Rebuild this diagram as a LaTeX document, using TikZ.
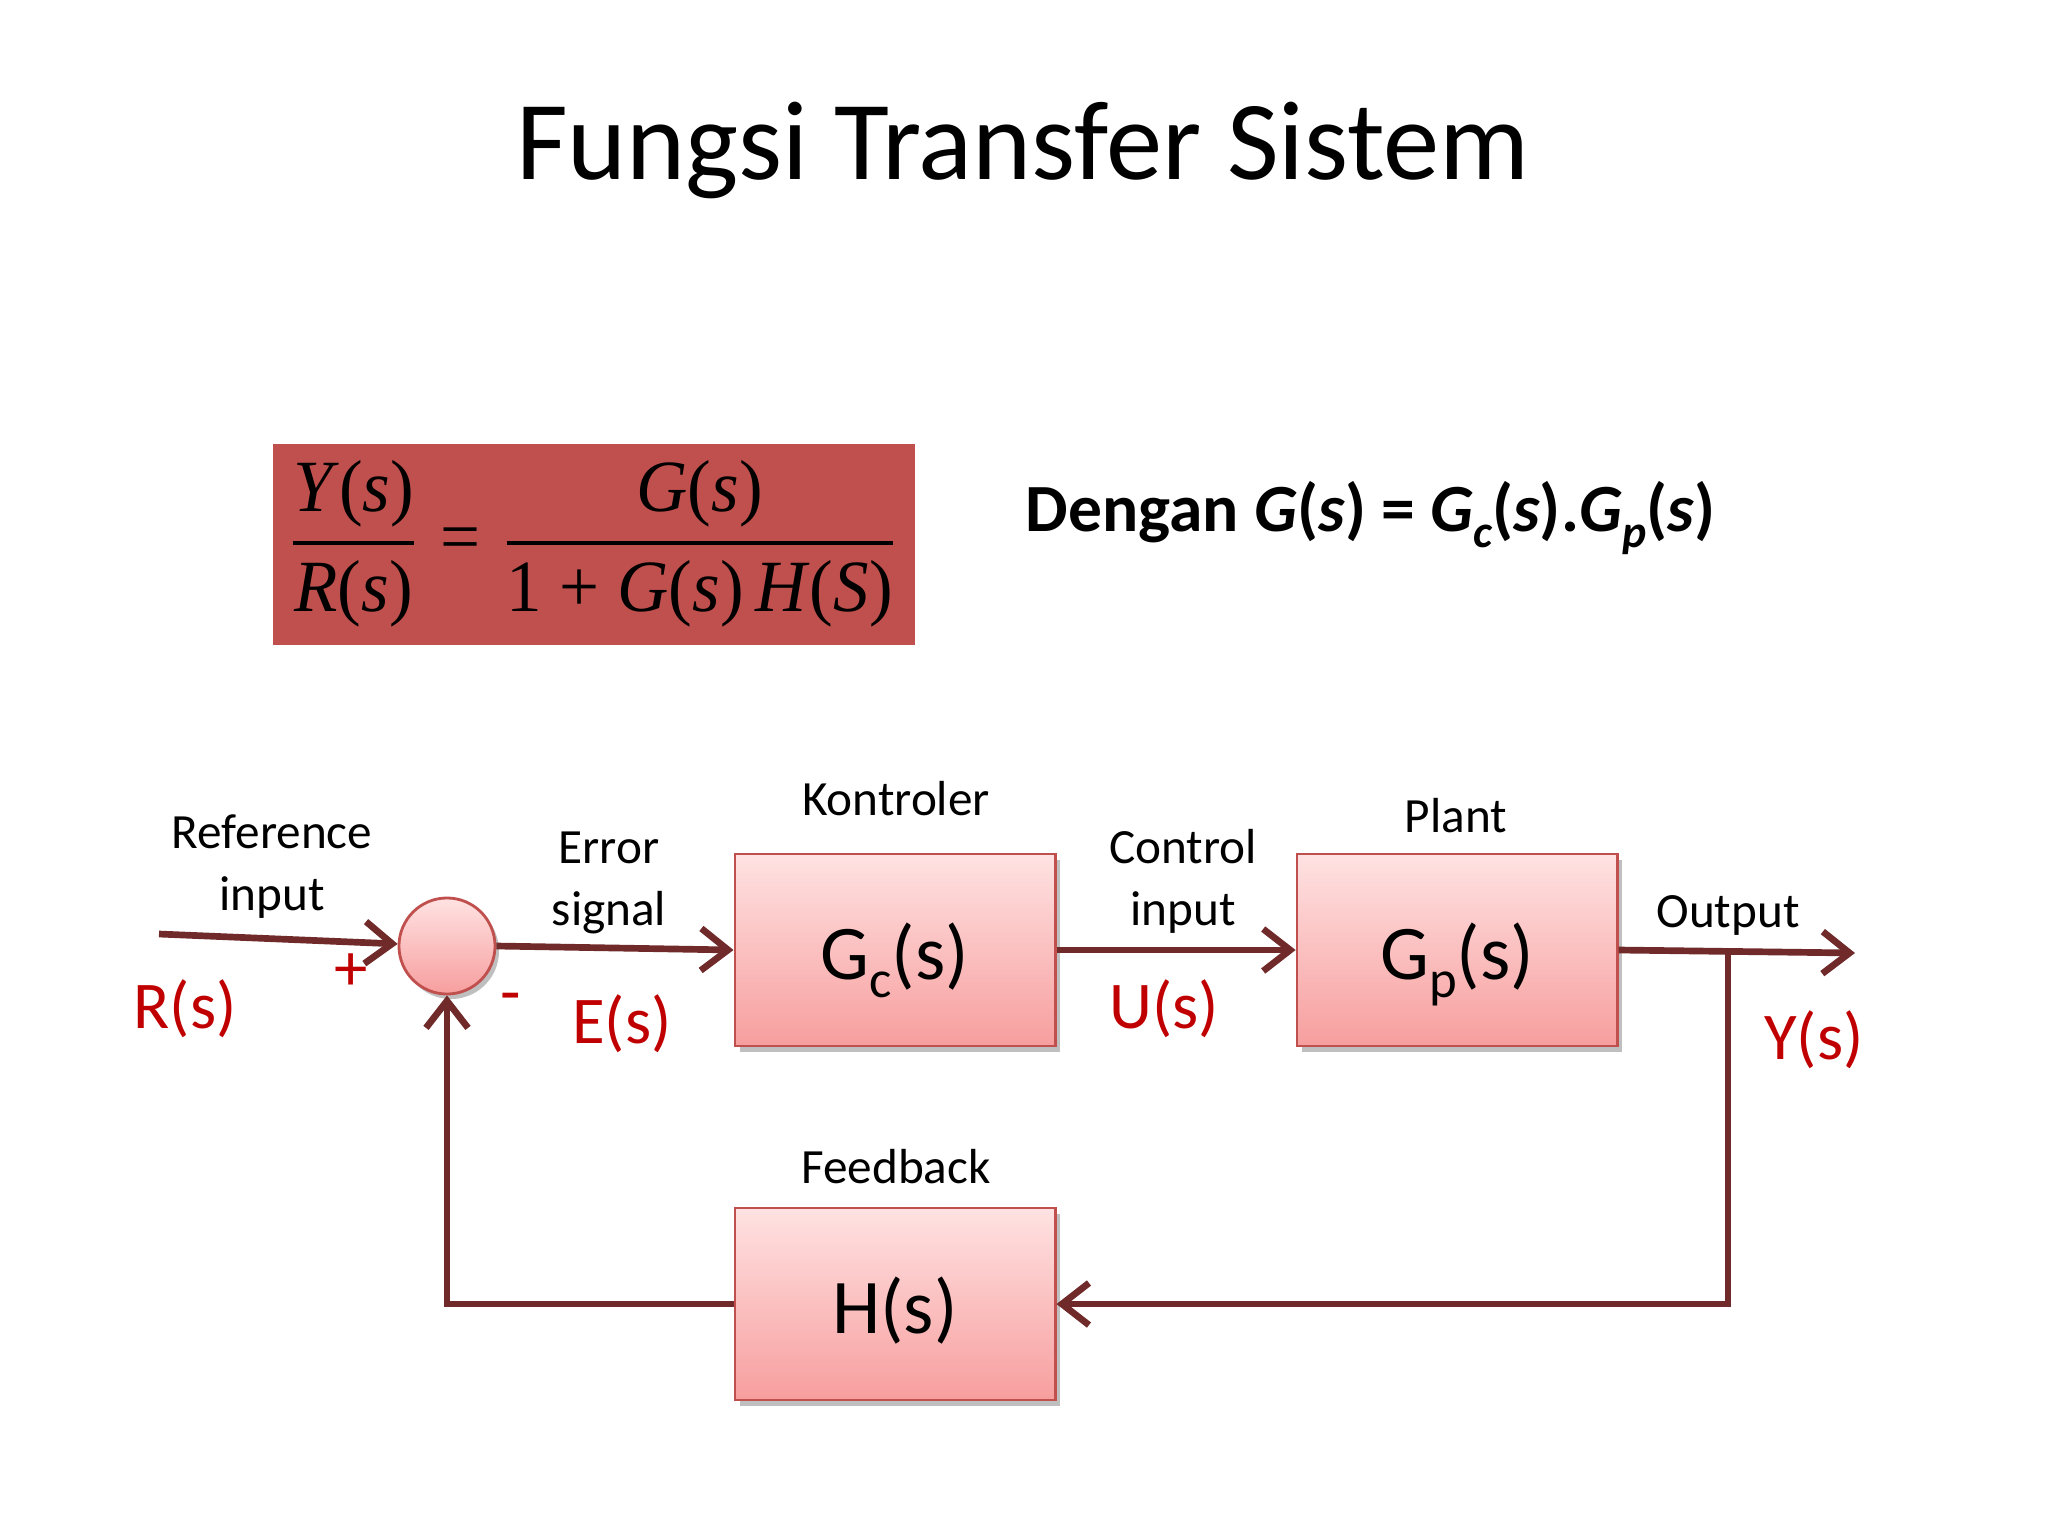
\documentclass[tikz,border=0pt]{standalone}
\usepackage{fontspec}
\usepackage{amsmath}
\usepackage{graphicx}
\setmainfont{Carlito}
\newfontfamily\tmsfont{Liberation Serif}
\usetikzlibrary{arrows.meta, positioning, shadows}
\definecolor{ctlred}{RGB}{192,80,77}
\definecolor{ctlline}{RGB}{112,42,42}
\definecolor{ctltext}{RGB}{192,0,0}
\definecolor{ctltop}{RGB}{255,226,226}
\definecolor{ctlbot}{RGB}{247,158,158}
\newcommand{\tf}[1]{\text{\tmsfont #1}}
\newcommand{\lowsub}[2]{\raisebox{-0.5ex}{\fontsize{#1}{#1}\selectfont #2}}

\begin{document}
\begin{tikzpicture}[x=0.01cm, y=-0.01cm,
            block/.style={rectangle, draw=ctlred, line width=0.8pt, top color=ctltop, bottom color=ctlbot, minimum width=3.2cm, minimum height=1.92cm, inner sep=0pt, text height=0.78cm, text depth=0.2cm, font=\fontsize{22}{26}\selectfont, drop shadow={shadow xshift=0.5mm, shadow yshift=-0.6mm, fill=black, opacity=0.25}},
            sumnode/.style={circle, draw=ctlred, line width=0.8pt, top color=ctltop, bottom color=ctlbot, minimum size=0.96cm, inner sep=0pt, drop shadow={shadow xshift=0.4mm, shadow yshift=-0.5mm, fill=black, opacity=0.25}},
            lbl/.style={font=\fontsize{14}{17.5}\selectfont, align=center, anchor=base, inner sep=0pt},
            sig/.style={font=\fontsize{19}{22}\selectfont, text=ctltext, anchor=base, inner sep=0pt},
            arr/.style={-{Straight Barb[length=2.7mm, width=4.2mm]}, line width=1.9pt, ctlline}
        ]
            \useasboundingbox (0,0) rectangle (2048,1536);
            \node[anchor=base, font=\fontsize{32}{37}\selectfont] (title) at (1023,179) {Fungsi Transfer Sistem};

            \node[rectangle, fill=ctlred, minimum width=6.42cm, minimum height=2.01cm, inner sep=0pt] (tfbox) at (594,544.5) {};
            \node[inner sep=0pt] (tf) at (593,544) {\resizebox*{6.16cm}{1.67cm}{$\genfrac{}{}{0.55pt}{0}{\tf{\textit{Y}(\textit{s})}}{\tf{\textit{R}(\textit{s})}} \tf{ = } \genfrac{}{}{0.55pt}{0}{\tf{\textit{G}(\textit{s})}}{\tf{1 + \textit{G}(\textit{s})\,\textit{H}(\textit{S})}}$}};
            \node[anchor=base west, inner sep=0pt, font=\fontsize{19.2}{23}\selectfont\bfseries] (dengan) at (1025,531) {Dengan \textit{G}(\textit{s}) = \textit{G\lowsub{13}{c}}(\textit{s}).\textit{G\lowsub{13}{p}}(\textit{s})};

            \node[sumnode] (sum) at (447,946) {};
            \node[block] (gc) at (895,950) {G\lowsub{15}{c}(s)};
            \node[block, right=2.39cm of gc] (gp) {G\lowsub{15}{p}(s)};
            \node[block, below=1.59cm of gc] (h) {H(s)};
            \coordinate (rin) at (159,934);
            \coordinate (yout) at (1855,953);
            \coordinate (br) at (1728,951);

            \node[lbl] (refin) at (272,910) {Reference\\input};
            \node[lbl] (errsig) at (609,925) {Error\\signal};
            \node[lbl] (kontr) at (896,815) {Kontroler};
            \node[lbl] (ctlin) at (1183,925) {Control\\input};
            \node[lbl] (plant) at (1456,832) {Plant};
            \node[lbl] (outp) at (1728,927) {Output};
            \node[lbl] (fback) at (896,1183) {Feedback};

            \node[sig] (rs) at (185,1028) {R(s)};
            \node[sig] (es) at (622,1043) {E(s)};
            \node[sig] (us) at (1164,1028) {U(s)};
            \node[sig] (ys) at (1814,1059) {Y(s)};
            \node[sig, anchor=center] (plus) at (351,972) {+};
            \node[sig, anchor=center] (minus) at (511,1004) {-};

            \draw[arr] (rin) -- (sum);
            \draw[arr] (sum.east) -- (gc.west);
            \draw[arr] (gc.east) -- (gp.west);
            \draw[arr] (gp.east) -- (yout);
            \draw[arr] (br) |- (h.east);
            \draw[arr] (h.west) -| (sum.south);
        \end{tikzpicture}
\end{document}
